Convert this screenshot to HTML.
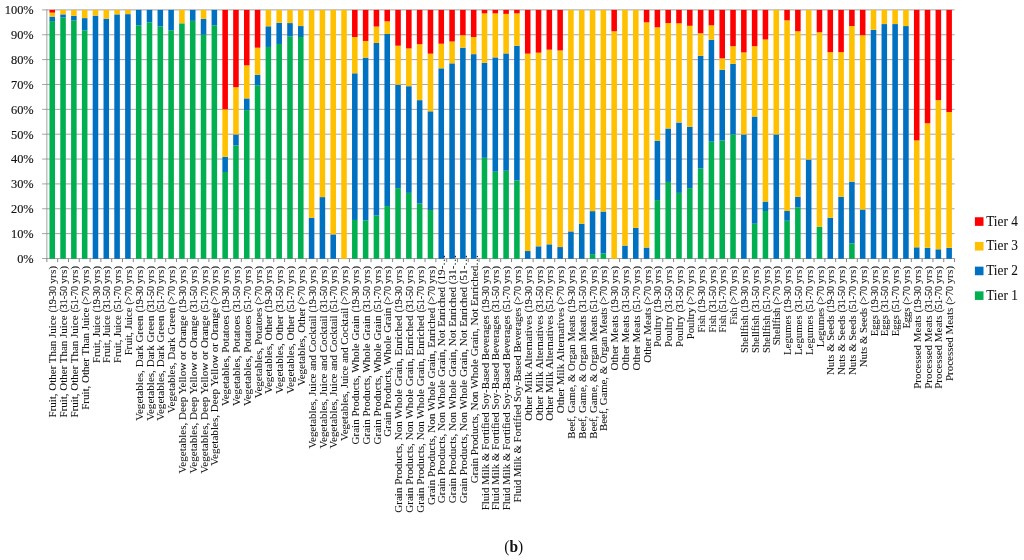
<!DOCTYPE html>
<html lang="en">
<head>
<meta charset="utf-8">
<title>Figure (b) - Tier distribution by food category and age group</title>
<style>
html,body{margin:0;padding:0;background:#fff;}
body{width:1024px;height:560px;overflow:hidden;font-family:"Liberation Serif",serif;}
svg{display:block;}
text{font-family:"Liberation Serif",serif;fill:#111;}
.yl{font-size:13.2px;text-anchor:end;stroke:#111;stroke-width:0.15px;}
.xl{text-anchor:end;stroke:#111;stroke-width:0.06px;}
.dg{stroke-width:0.14px;}
.lg{font-size:13.7px;stroke:#111;stroke-width:0.07px;}
.cap{font-size:16.6px;text-anchor:middle;}
</style>
</head>
<body>
<svg width="1024" height="560" viewBox="0 0 1024 560">
<rect width="1024" height="560" fill="#ffffff"/>
<g stroke="#868686" stroke-width="0.75" fill="none">
<line x1="42.1" y1="258.50" x2="954.55" y2="258.50"/>
<line x1="42.1" y1="233.64" x2="954.55" y2="233.64"/>
<line x1="42.1" y1="208.78" x2="954.55" y2="208.78"/>
<line x1="42.1" y1="183.92" x2="954.55" y2="183.92"/>
<line x1="42.1" y1="159.06" x2="954.55" y2="159.06"/>
<line x1="42.1" y1="134.20" x2="954.55" y2="134.20"/>
<line x1="42.1" y1="109.34" x2="954.55" y2="109.34"/>
<line x1="42.1" y1="84.48" x2="954.55" y2="84.48"/>
<line x1="42.1" y1="59.62" x2="954.55" y2="59.62"/>
<line x1="42.1" y1="34.76" x2="954.55" y2="34.76"/>
<line x1="42.1" y1="9.90" x2="954.55" y2="9.90"/>
</g>
<g fill="#00B050">
<rect x="49.48" y="21.09" width="5.55" height="237.71"/>
<rect x="60.28" y="17.61" width="5.55" height="241.19"/>
<rect x="71.09" y="20.34" width="5.55" height="238.46"/>
<rect x="81.90" y="30.29" width="5.55" height="228.51"/>
<rect x="135.93" y="25.31" width="5.55" height="233.49"/>
<rect x="146.73" y="22.33" width="5.55" height="236.47"/>
<rect x="157.54" y="26.56" width="5.55" height="232.24"/>
<rect x="168.34" y="30.29" width="5.55" height="228.51"/>
<rect x="179.15" y="23.32" width="5.55" height="235.48"/>
<rect x="189.96" y="20.84" width="5.55" height="237.96"/>
<rect x="200.76" y="34.76" width="5.55" height="224.04"/>
<rect x="211.57" y="25.31" width="5.55" height="233.49"/>
<rect x="222.37" y="171.99" width="5.55" height="86.81"/>
<rect x="233.18" y="145.39" width="5.55" height="113.41"/>
<rect x="243.99" y="110.09" width="5.55" height="148.71"/>
<rect x="254.79" y="85.23" width="5.55" height="173.57"/>
<rect x="265.60" y="46.94" width="5.55" height="211.86"/>
<rect x="276.40" y="43.96" width="5.55" height="214.84"/>
<rect x="287.21" y="36.50" width="5.55" height="222.30"/>
<rect x="298.01" y="37.00" width="5.55" height="221.80"/>
<rect x="352.04" y="219.97" width="5.55" height="38.83"/>
<rect x="362.85" y="220.46" width="5.55" height="38.34"/>
<rect x="373.66" y="215.49" width="5.55" height="43.31"/>
<rect x="384.46" y="206.05" width="5.55" height="52.75"/>
<rect x="395.27" y="188.15" width="5.55" height="70.65"/>
<rect x="406.07" y="192.87" width="5.55" height="65.93"/>
<rect x="416.88" y="203.56" width="5.55" height="55.24"/>
<rect x="427.69" y="210.02" width="5.55" height="48.78"/>
<rect x="481.72" y="157.82" width="5.55" height="100.98"/>
<rect x="492.52" y="171.74" width="5.55" height="87.06"/>
<rect x="503.33" y="170.74" width="5.55" height="88.06"/>
<rect x="514.13" y="180.44" width="5.55" height="78.36"/>
<rect x="589.78" y="254.15" width="5.55" height="4.65"/>
<rect x="600.58" y="253.53" width="5.55" height="5.27"/>
<rect x="654.61" y="200.08" width="5.55" height="58.72"/>
<rect x="665.42" y="181.93" width="5.55" height="76.87"/>
<rect x="676.22" y="192.87" width="5.55" height="65.93"/>
<rect x="687.03" y="188.15" width="5.55" height="70.65"/>
<rect x="697.84" y="168.51" width="5.55" height="90.29"/>
<rect x="708.64" y="141.66" width="5.55" height="117.14"/>
<rect x="719.45" y="140.42" width="5.55" height="118.38"/>
<rect x="730.25" y="134.45" width="5.55" height="124.35"/>
<rect x="751.86" y="223.70" width="5.55" height="35.10"/>
<rect x="762.67" y="211.02" width="5.55" height="47.78"/>
<rect x="784.28" y="220.71" width="5.55" height="38.09"/>
<rect x="795.09" y="207.29" width="5.55" height="51.51"/>
<rect x="816.70" y="226.68" width="5.55" height="32.12"/>
<rect x="849.12" y="243.46" width="5.55" height="15.34"/>
</g>
<g fill="#0070C0">
<rect x="49.48" y="16.61" width="5.55" height="4.47"/>
<rect x="60.28" y="14.37" width="5.55" height="3.23"/>
<rect x="71.09" y="15.87" width="5.55" height="4.47"/>
<rect x="81.90" y="18.10" width="5.55" height="12.18"/>
<rect x="92.70" y="15.62" width="5.55" height="243.18"/>
<rect x="103.51" y="18.60" width="5.55" height="240.20"/>
<rect x="114.31" y="14.37" width="5.55" height="244.43"/>
<rect x="125.12" y="14.13" width="5.55" height="244.67"/>
<rect x="135.93" y="9.90" width="5.55" height="15.41"/>
<rect x="146.73" y="9.90" width="5.55" height="12.43"/>
<rect x="157.54" y="9.90" width="5.55" height="16.66"/>
<rect x="168.34" y="9.90" width="5.55" height="20.39"/>
<rect x="189.96" y="9.90" width="5.55" height="10.94"/>
<rect x="200.76" y="18.85" width="5.55" height="15.91"/>
<rect x="211.57" y="9.90" width="5.55" height="15.41"/>
<rect x="222.37" y="156.82" width="5.55" height="15.16"/>
<rect x="233.18" y="134.45" width="5.55" height="10.94"/>
<rect x="243.99" y="98.40" width="5.55" height="11.68"/>
<rect x="254.79" y="74.78" width="5.55" height="10.44"/>
<rect x="265.60" y="26.31" width="5.55" height="20.63"/>
<rect x="276.40" y="22.83" width="5.55" height="21.13"/>
<rect x="287.21" y="23.08" width="5.55" height="13.42"/>
<rect x="298.01" y="26.06" width="5.55" height="10.94"/>
<rect x="308.82" y="217.73" width="5.55" height="41.07"/>
<rect x="319.63" y="197.10" width="5.55" height="61.70"/>
<rect x="330.43" y="234.39" width="5.55" height="24.41"/>
<rect x="352.04" y="73.29" width="5.55" height="146.67"/>
<rect x="362.85" y="57.63" width="5.55" height="162.83"/>
<rect x="373.66" y="42.96" width="5.55" height="172.53"/>
<rect x="384.46" y="34.01" width="5.55" height="172.03"/>
<rect x="395.27" y="84.73" width="5.55" height="103.42"/>
<rect x="406.07" y="86.22" width="5.55" height="106.65"/>
<rect x="416.88" y="100.14" width="5.55" height="103.42"/>
<rect x="427.69" y="111.33" width="5.55" height="98.69"/>
<rect x="438.49" y="68.32" width="5.55" height="190.48"/>
<rect x="449.30" y="63.35" width="5.55" height="195.45"/>
<rect x="460.10" y="47.69" width="5.55" height="211.11"/>
<rect x="470.91" y="54.15" width="5.55" height="204.65"/>
<rect x="481.72" y="62.85" width="5.55" height="94.97"/>
<rect x="492.52" y="57.38" width="5.55" height="114.36"/>
<rect x="503.33" y="53.41" width="5.55" height="117.34"/>
<rect x="514.13" y="45.70" width="5.55" height="134.74"/>
<rect x="524.94" y="251.04" width="5.55" height="7.76"/>
<rect x="535.75" y="246.32" width="5.55" height="12.48"/>
<rect x="546.55" y="244.33" width="5.55" height="14.47"/>
<rect x="557.36" y="247.06" width="5.55" height="11.74"/>
<rect x="568.16" y="231.40" width="5.55" height="27.40"/>
<rect x="578.97" y="223.70" width="5.55" height="35.10"/>
<rect x="589.78" y="211.14" width="5.55" height="43.01"/>
<rect x="600.58" y="211.51" width="5.55" height="42.01"/>
<rect x="622.19" y="245.57" width="5.55" height="13.23"/>
<rect x="633.00" y="227.92" width="5.55" height="30.88"/>
<rect x="643.81" y="247.56" width="5.55" height="11.24"/>
<rect x="654.61" y="140.66" width="5.55" height="59.42"/>
<rect x="665.42" y="128.48" width="5.55" height="53.45"/>
<rect x="676.22" y="122.52" width="5.55" height="70.35"/>
<rect x="687.03" y="126.74" width="5.55" height="61.40"/>
<rect x="697.84" y="55.89" width="5.55" height="112.62"/>
<rect x="708.64" y="39.73" width="5.55" height="101.93"/>
<rect x="719.45" y="69.81" width="5.55" height="70.60"/>
<rect x="730.25" y="63.85" width="5.55" height="70.60"/>
<rect x="741.06" y="134.45" width="5.55" height="124.35"/>
<rect x="751.86" y="116.55" width="5.55" height="107.15"/>
<rect x="762.67" y="201.57" width="5.55" height="9.45"/>
<rect x="773.48" y="134.45" width="5.55" height="124.35"/>
<rect x="784.28" y="211.02" width="5.55" height="9.70"/>
<rect x="795.09" y="196.85" width="5.55" height="10.44"/>
<rect x="805.89" y="159.56" width="5.55" height="99.24"/>
<rect x="827.51" y="217.73" width="5.55" height="41.07"/>
<rect x="838.31" y="196.85" width="5.55" height="61.95"/>
<rect x="849.12" y="181.68" width="5.55" height="61.78"/>
<rect x="859.92" y="209.53" width="5.55" height="49.27"/>
<rect x="870.73" y="29.79" width="5.55" height="229.01"/>
<rect x="881.54" y="24.07" width="5.55" height="234.73"/>
<rect x="892.34" y="24.07" width="5.55" height="234.73"/>
<rect x="903.15" y="26.06" width="5.55" height="232.74"/>
<rect x="913.95" y="247.31" width="5.55" height="11.49"/>
<rect x="924.76" y="247.81" width="5.55" height="10.99"/>
<rect x="935.57" y="249.30" width="5.55" height="9.50"/>
<rect x="946.37" y="247.81" width="5.55" height="10.99"/>
</g>
<g fill="#FFC000">
<rect x="49.48" y="12.63" width="5.55" height="3.98"/>
<rect x="60.28" y="9.90" width="5.55" height="4.47"/>
<rect x="71.09" y="9.90" width="5.55" height="5.97"/>
<rect x="81.90" y="9.90" width="5.55" height="8.20"/>
<rect x="92.70" y="9.90" width="5.55" height="5.72"/>
<rect x="103.51" y="9.90" width="5.55" height="8.70"/>
<rect x="114.31" y="9.90" width="5.55" height="4.47"/>
<rect x="125.12" y="9.90" width="5.55" height="4.23"/>
<rect x="179.15" y="9.90" width="5.55" height="13.42"/>
<rect x="200.76" y="9.90" width="5.55" height="8.95"/>
<rect x="222.37" y="109.34" width="5.55" height="47.48"/>
<rect x="233.18" y="87.21" width="5.55" height="47.23"/>
<rect x="243.99" y="65.34" width="5.55" height="33.06"/>
<rect x="254.79" y="47.69" width="5.55" height="27.10"/>
<rect x="265.60" y="9.90" width="5.55" height="16.41"/>
<rect x="276.40" y="9.90" width="5.55" height="12.93"/>
<rect x="287.21" y="9.90" width="5.55" height="13.18"/>
<rect x="298.01" y="9.90" width="5.55" height="16.16"/>
<rect x="308.82" y="9.90" width="5.55" height="207.83"/>
<rect x="319.63" y="9.90" width="5.55" height="187.20"/>
<rect x="330.43" y="9.90" width="5.55" height="224.49"/>
<rect x="341.24" y="9.90" width="5.55" height="248.90"/>
<rect x="352.04" y="37.00" width="5.55" height="36.30"/>
<rect x="362.85" y="40.97" width="5.55" height="16.66"/>
<rect x="373.66" y="26.56" width="5.55" height="16.41"/>
<rect x="384.46" y="21.34" width="5.55" height="12.68"/>
<rect x="395.27" y="45.70" width="5.55" height="39.03"/>
<rect x="406.07" y="48.43" width="5.55" height="37.79"/>
<rect x="416.88" y="44.21" width="5.55" height="55.93"/>
<rect x="427.69" y="53.65" width="5.55" height="57.68"/>
<rect x="438.49" y="43.71" width="5.55" height="24.61"/>
<rect x="449.30" y="41.47" width="5.55" height="21.88"/>
<rect x="460.10" y="35.26" width="5.55" height="12.43"/>
<rect x="470.91" y="37.00" width="5.55" height="17.15"/>
<rect x="481.72" y="13.38" width="5.55" height="49.47"/>
<rect x="492.52" y="13.38" width="5.55" height="44.00"/>
<rect x="503.33" y="13.88" width="5.55" height="39.53"/>
<rect x="514.13" y="13.38" width="5.55" height="32.32"/>
<rect x="524.94" y="53.65" width="5.55" height="197.39"/>
<rect x="535.75" y="52.66" width="5.55" height="193.66"/>
<rect x="546.55" y="49.68" width="5.55" height="194.65"/>
<rect x="557.36" y="50.42" width="5.55" height="196.64"/>
<rect x="568.16" y="9.90" width="5.55" height="221.50"/>
<rect x="578.97" y="9.90" width="5.55" height="213.80"/>
<rect x="589.78" y="9.90" width="5.55" height="201.24"/>
<rect x="600.58" y="9.90" width="5.55" height="201.61"/>
<rect x="611.39" y="31.28" width="5.55" height="227.52"/>
<rect x="622.19" y="9.90" width="5.55" height="235.67"/>
<rect x="633.00" y="9.90" width="5.55" height="218.02"/>
<rect x="643.81" y="22.33" width="5.55" height="225.23"/>
<rect x="654.61" y="27.30" width="5.55" height="113.36"/>
<rect x="665.42" y="23.08" width="5.55" height="105.41"/>
<rect x="676.22" y="23.32" width="5.55" height="99.19"/>
<rect x="687.03" y="25.81" width="5.55" height="100.93"/>
<rect x="697.84" y="33.27" width="5.55" height="22.62"/>
<rect x="708.64" y="25.31" width="5.55" height="14.42"/>
<rect x="719.45" y="58.38" width="5.55" height="11.44"/>
<rect x="730.25" y="46.20" width="5.55" height="17.65"/>
<rect x="741.06" y="52.41" width="5.55" height="82.04"/>
<rect x="751.86" y="46.20" width="5.55" height="70.35"/>
<rect x="762.67" y="39.48" width="5.55" height="162.09"/>
<rect x="773.48" y="9.90" width="5.55" height="124.55"/>
<rect x="784.28" y="20.34" width="5.55" height="190.68"/>
<rect x="795.09" y="31.28" width="5.55" height="165.57"/>
<rect x="805.89" y="9.90" width="5.55" height="149.66"/>
<rect x="816.70" y="32.27" width="5.55" height="194.41"/>
<rect x="827.51" y="52.16" width="5.55" height="165.57"/>
<rect x="838.31" y="52.16" width="5.55" height="144.69"/>
<rect x="849.12" y="26.06" width="5.55" height="155.62"/>
<rect x="859.92" y="35.26" width="5.55" height="174.27"/>
<rect x="870.73" y="9.90" width="5.55" height="19.89"/>
<rect x="881.54" y="9.90" width="5.55" height="14.17"/>
<rect x="892.34" y="9.90" width="5.55" height="14.17"/>
<rect x="903.15" y="9.90" width="5.55" height="16.16"/>
<rect x="913.95" y="140.42" width="5.55" height="106.90"/>
<rect x="924.76" y="123.26" width="5.55" height="124.55"/>
<rect x="935.57" y="100.14" width="5.55" height="149.16"/>
<rect x="946.37" y="112.07" width="5.55" height="135.74"/>
</g>
<g fill="#FF0000">
<rect x="49.48" y="9.90" width="5.55" height="2.73"/>
<rect x="222.37" y="9.90" width="5.55" height="99.44"/>
<rect x="233.18" y="9.90" width="5.55" height="77.31"/>
<rect x="243.99" y="9.90" width="5.55" height="55.44"/>
<rect x="254.79" y="9.90" width="5.55" height="37.79"/>
<rect x="352.04" y="9.90" width="5.55" height="27.10"/>
<rect x="362.85" y="9.90" width="5.55" height="31.07"/>
<rect x="373.66" y="9.90" width="5.55" height="16.66"/>
<rect x="384.46" y="9.90" width="5.55" height="11.44"/>
<rect x="395.27" y="9.90" width="5.55" height="35.80"/>
<rect x="406.07" y="9.90" width="5.55" height="38.53"/>
<rect x="416.88" y="9.90" width="5.55" height="34.31"/>
<rect x="427.69" y="9.90" width="5.55" height="43.75"/>
<rect x="438.49" y="9.90" width="5.55" height="33.81"/>
<rect x="449.30" y="9.90" width="5.55" height="31.57"/>
<rect x="460.10" y="9.90" width="5.55" height="25.36"/>
<rect x="470.91" y="9.90" width="5.55" height="27.10"/>
<rect x="481.72" y="9.90" width="5.55" height="3.48"/>
<rect x="492.52" y="9.90" width="5.55" height="3.48"/>
<rect x="503.33" y="9.90" width="5.55" height="3.98"/>
<rect x="514.13" y="9.90" width="5.55" height="3.48"/>
<rect x="524.94" y="9.90" width="5.55" height="43.75"/>
<rect x="535.75" y="9.90" width="5.55" height="42.76"/>
<rect x="546.55" y="9.90" width="5.55" height="39.78"/>
<rect x="557.36" y="9.90" width="5.55" height="40.52"/>
<rect x="611.39" y="9.90" width="5.55" height="21.38"/>
<rect x="643.81" y="9.90" width="5.55" height="12.43"/>
<rect x="654.61" y="9.90" width="5.55" height="17.40"/>
<rect x="665.42" y="9.90" width="5.55" height="13.18"/>
<rect x="676.22" y="9.90" width="5.55" height="13.42"/>
<rect x="687.03" y="9.90" width="5.55" height="15.91"/>
<rect x="697.84" y="9.90" width="5.55" height="23.37"/>
<rect x="708.64" y="9.90" width="5.55" height="15.41"/>
<rect x="719.45" y="9.90" width="5.55" height="48.48"/>
<rect x="730.25" y="9.90" width="5.55" height="36.30"/>
<rect x="741.06" y="9.90" width="5.55" height="42.51"/>
<rect x="751.86" y="9.90" width="5.55" height="36.30"/>
<rect x="762.67" y="9.90" width="5.55" height="29.58"/>
<rect x="784.28" y="9.90" width="5.55" height="10.44"/>
<rect x="795.09" y="9.90" width="5.55" height="21.38"/>
<rect x="816.70" y="9.90" width="5.55" height="22.37"/>
<rect x="827.51" y="9.90" width="5.55" height="42.26"/>
<rect x="838.31" y="9.90" width="5.55" height="42.26"/>
<rect x="849.12" y="9.90" width="5.55" height="16.16"/>
<rect x="859.92" y="9.90" width="5.55" height="25.36"/>
<rect x="913.95" y="9.90" width="5.55" height="130.52"/>
<rect x="924.76" y="9.90" width="5.55" height="113.36"/>
<rect x="935.57" y="9.90" width="5.55" height="90.24"/>
<rect x="946.37" y="9.90" width="5.55" height="102.17"/>
</g>
<g stroke="#868686" stroke-width="0.75" fill="none">
<line x1="46.85" y1="9.50" x2="46.85" y2="258.90"/>
<line stroke-width="1" x1="46.85" y1="258.50" x2="46.85" y2="262.10"/>
<line stroke-width="1" x1="57.66" y1="258.50" x2="57.66" y2="262.10"/>
<line stroke-width="1" x1="68.46" y1="258.50" x2="68.46" y2="262.10"/>
<line stroke-width="1" x1="79.27" y1="258.50" x2="79.27" y2="262.10"/>
<line stroke-width="1" x1="90.07" y1="258.50" x2="90.07" y2="262.10"/>
<line stroke-width="1" x1="100.88" y1="258.50" x2="100.88" y2="262.10"/>
<line stroke-width="1" x1="111.69" y1="258.50" x2="111.69" y2="262.10"/>
<line stroke-width="1" x1="122.49" y1="258.50" x2="122.49" y2="262.10"/>
<line stroke-width="1" x1="133.30" y1="258.50" x2="133.30" y2="262.10"/>
<line stroke-width="1" x1="144.10" y1="258.50" x2="144.10" y2="262.10"/>
<line stroke-width="1" x1="154.91" y1="258.50" x2="154.91" y2="262.10"/>
<line stroke-width="1" x1="165.72" y1="258.50" x2="165.72" y2="262.10"/>
<line stroke-width="1" x1="176.52" y1="258.50" x2="176.52" y2="262.10"/>
<line stroke-width="1" x1="187.33" y1="258.50" x2="187.33" y2="262.10"/>
<line stroke-width="1" x1="198.13" y1="258.50" x2="198.13" y2="262.10"/>
<line stroke-width="1" x1="208.94" y1="258.50" x2="208.94" y2="262.10"/>
<line stroke-width="1" x1="219.75" y1="258.50" x2="219.75" y2="262.10"/>
<line stroke-width="1" x1="230.55" y1="258.50" x2="230.55" y2="262.10"/>
<line stroke-width="1" x1="241.36" y1="258.50" x2="241.36" y2="262.10"/>
<line stroke-width="1" x1="252.16" y1="258.50" x2="252.16" y2="262.10"/>
<line stroke-width="1" x1="262.97" y1="258.50" x2="262.97" y2="262.10"/>
<line stroke-width="1" x1="273.77" y1="258.50" x2="273.77" y2="262.10"/>
<line stroke-width="1" x1="284.58" y1="258.50" x2="284.58" y2="262.10"/>
<line stroke-width="1" x1="295.39" y1="258.50" x2="295.39" y2="262.10"/>
<line stroke-width="1" x1="306.19" y1="258.50" x2="306.19" y2="262.10"/>
<line stroke-width="1" x1="317.00" y1="258.50" x2="317.00" y2="262.10"/>
<line stroke-width="1" x1="327.80" y1="258.50" x2="327.80" y2="262.10"/>
<line stroke-width="1" x1="338.61" y1="258.50" x2="338.61" y2="262.10"/>
<line stroke-width="1" x1="349.42" y1="258.50" x2="349.42" y2="262.10"/>
<line stroke-width="1" x1="360.22" y1="258.50" x2="360.22" y2="262.10"/>
<line stroke-width="1" x1="371.03" y1="258.50" x2="371.03" y2="262.10"/>
<line stroke-width="1" x1="381.83" y1="258.50" x2="381.83" y2="262.10"/>
<line stroke-width="1" x1="392.64" y1="258.50" x2="392.64" y2="262.10"/>
<line stroke-width="1" x1="403.45" y1="258.50" x2="403.45" y2="262.10"/>
<line stroke-width="1" x1="414.25" y1="258.50" x2="414.25" y2="262.10"/>
<line stroke-width="1" x1="425.06" y1="258.50" x2="425.06" y2="262.10"/>
<line stroke-width="1" x1="435.86" y1="258.50" x2="435.86" y2="262.10"/>
<line stroke-width="1" x1="446.67" y1="258.50" x2="446.67" y2="262.10"/>
<line stroke-width="1" x1="457.48" y1="258.50" x2="457.48" y2="262.10"/>
<line stroke-width="1" x1="468.28" y1="258.50" x2="468.28" y2="262.10"/>
<line stroke-width="1" x1="479.09" y1="258.50" x2="479.09" y2="262.10"/>
<line stroke-width="1" x1="489.89" y1="258.50" x2="489.89" y2="262.10"/>
<line stroke-width="1" x1="500.70" y1="258.50" x2="500.70" y2="262.10"/>
<line stroke-width="1" x1="511.51" y1="258.50" x2="511.51" y2="262.10"/>
<line stroke-width="1" x1="522.31" y1="258.50" x2="522.31" y2="262.10"/>
<line stroke-width="1" x1="533.12" y1="258.50" x2="533.12" y2="262.10"/>
<line stroke-width="1" x1="543.92" y1="258.50" x2="543.92" y2="262.10"/>
<line stroke-width="1" x1="554.73" y1="258.50" x2="554.73" y2="262.10"/>
<line stroke-width="1" x1="565.54" y1="258.50" x2="565.54" y2="262.10"/>
<line stroke-width="1" x1="576.34" y1="258.50" x2="576.34" y2="262.10"/>
<line stroke-width="1" x1="587.15" y1="258.50" x2="587.15" y2="262.10"/>
<line stroke-width="1" x1="597.95" y1="258.50" x2="597.95" y2="262.10"/>
<line stroke-width="1" x1="608.76" y1="258.50" x2="608.76" y2="262.10"/>
<line stroke-width="1" x1="619.57" y1="258.50" x2="619.57" y2="262.10"/>
<line stroke-width="1" x1="630.37" y1="258.50" x2="630.37" y2="262.10"/>
<line stroke-width="1" x1="641.18" y1="258.50" x2="641.18" y2="262.10"/>
<line stroke-width="1" x1="651.98" y1="258.50" x2="651.98" y2="262.10"/>
<line stroke-width="1" x1="662.79" y1="258.50" x2="662.79" y2="262.10"/>
<line stroke-width="1" x1="673.60" y1="258.50" x2="673.60" y2="262.10"/>
<line stroke-width="1" x1="684.40" y1="258.50" x2="684.40" y2="262.10"/>
<line stroke-width="1" x1="695.21" y1="258.50" x2="695.21" y2="262.10"/>
<line stroke-width="1" x1="706.01" y1="258.50" x2="706.01" y2="262.10"/>
<line stroke-width="1" x1="716.82" y1="258.50" x2="716.82" y2="262.10"/>
<line stroke-width="1" x1="727.62" y1="258.50" x2="727.62" y2="262.10"/>
<line stroke-width="1" x1="738.43" y1="258.50" x2="738.43" y2="262.10"/>
<line stroke-width="1" x1="749.24" y1="258.50" x2="749.24" y2="262.10"/>
<line stroke-width="1" x1="760.04" y1="258.50" x2="760.04" y2="262.10"/>
<line stroke-width="1" x1="770.85" y1="258.50" x2="770.85" y2="262.10"/>
<line stroke-width="1" x1="781.65" y1="258.50" x2="781.65" y2="262.10"/>
<line stroke-width="1" x1="792.46" y1="258.50" x2="792.46" y2="262.10"/>
<line stroke-width="1" x1="803.27" y1="258.50" x2="803.27" y2="262.10"/>
<line stroke-width="1" x1="814.07" y1="258.50" x2="814.07" y2="262.10"/>
<line stroke-width="1" x1="824.88" y1="258.50" x2="824.88" y2="262.10"/>
<line stroke-width="1" x1="835.68" y1="258.50" x2="835.68" y2="262.10"/>
<line stroke-width="1" x1="846.49" y1="258.50" x2="846.49" y2="262.10"/>
<line stroke-width="1" x1="857.30" y1="258.50" x2="857.30" y2="262.10"/>
<line stroke-width="1" x1="868.10" y1="258.50" x2="868.10" y2="262.10"/>
<line stroke-width="1" x1="878.91" y1="258.50" x2="878.91" y2="262.10"/>
<line stroke-width="1" x1="889.71" y1="258.50" x2="889.71" y2="262.10"/>
<line stroke-width="1" x1="900.52" y1="258.50" x2="900.52" y2="262.10"/>
<line stroke-width="1" x1="911.33" y1="258.50" x2="911.33" y2="262.10"/>
<line stroke-width="1" x1="922.13" y1="258.50" x2="922.13" y2="262.10"/>
<line stroke-width="1" x1="932.94" y1="258.50" x2="932.94" y2="262.10"/>
<line stroke-width="1" x1="943.74" y1="258.50" x2="943.74" y2="262.10"/>
<line stroke-width="1" x1="954.55" y1="258.50" x2="954.55" y2="262.10"/>
</g>
<g class="yl">
<text transform="translate(33.7 262.80) scale(0.9400 1)">0%</text>
<text transform="translate(33.7 237.94) scale(0.9400 1)">10%</text>
<text transform="translate(33.7 213.08) scale(0.9400 1)">20%</text>
<text transform="translate(33.7 188.22) scale(0.9400 1)">30%</text>
<text transform="translate(33.7 163.36) scale(0.9400 1)">40%</text>
<text transform="translate(33.7 138.50) scale(0.9400 1)">50%</text>
<text transform="translate(33.7 113.64) scale(0.9400 1)">60%</text>
<text transform="translate(33.7 88.78) scale(0.9400 1)">70%</text>
<text transform="translate(33.7 63.92) scale(0.9400 1)">80%</text>
<text transform="translate(33.7 39.06) scale(0.9400 1)">90%</text>
<text transform="translate(33.7 14.20) scale(0.9400 1)">100%</text>
</g>
<g class="xl" font-size="11.2">
<g transform="translate(56.35 265.70) rotate(-90)"><text transform="translate(-49.70 0) scale(0.9788 1)">Fruit, Other Than Juice</text><text class="dg" transform="translate(-20.30 0) scale(0.8930 1)"><tspan font-size="9.7">(</tspan>19-30</text><text transform="translate(-0.52 0) scale(1.0350 1)"> yrs<tspan font-size="9.7">)</tspan></text></g>
<g transform="translate(67.16 265.70) rotate(-90)"><text transform="translate(-49.70 0) scale(0.9788 1)">Fruit, Other Than Juice</text><text class="dg" transform="translate(-20.30 0) scale(0.8930 1)"><tspan font-size="9.7">(</tspan>31-50</text><text transform="translate(-0.52 0) scale(1.0350 1)"> yrs<tspan font-size="9.7">)</tspan></text></g>
<g transform="translate(77.96 265.70) rotate(-90)"><text transform="translate(-49.70 0) scale(0.9788 1)">Fruit, Other Than Juice</text><text class="dg" transform="translate(-20.30 0) scale(0.8930 1)"><tspan font-size="9.7">(</tspan>51-70</text><text transform="translate(-0.52 0) scale(1.0350 1)"> yrs<tspan font-size="9.7">)</tspan></text></g>
<g transform="translate(88.77 265.70) rotate(-90)"><text transform="translate(-42.01 0) scale(0.9788 1)">Fruit, Other Than Juice</text><text class="dg" transform="translate(-20.30 0) scale(0.8930 1)"><tspan font-size="9.7">(</tspan>&gt;70</text><text transform="translate(-0.52 0) scale(1.0350 1)"> yrs<tspan font-size="9.7">)</tspan></text></g>
<g transform="translate(99.58 265.70) rotate(-90)"><text transform="translate(-49.61 0) scale(0.9463 1)">Fruit, Juice</text><text class="dg" transform="translate(-20.30 0) scale(0.8930 1)"><tspan font-size="9.7">(</tspan>19-30</text><text transform="translate(-0.52 0) scale(1.0350 1)"> yrs<tspan font-size="9.7">)</tspan></text></g>
<g transform="translate(110.38 265.70) rotate(-90)"><text transform="translate(-49.61 0) scale(0.9463 1)">Fruit, Juice</text><text class="dg" transform="translate(-20.30 0) scale(0.8930 1)"><tspan font-size="9.7">(</tspan>31-50</text><text transform="translate(-0.52 0) scale(1.0350 1)"> yrs<tspan font-size="9.7">)</tspan></text></g>
<g transform="translate(121.19 265.70) rotate(-90)"><text transform="translate(-49.61 0) scale(0.9463 1)">Fruit, Juice</text><text class="dg" transform="translate(-20.30 0) scale(0.8930 1)"><tspan font-size="9.7">(</tspan>51-70</text><text transform="translate(-0.52 0) scale(1.0350 1)"> yrs<tspan font-size="9.7">)</tspan></text></g>
<g transform="translate(131.99 265.70) rotate(-90)"><text transform="translate(-41.92 0) scale(0.9463 1)">Fruit, Juice</text><text class="dg" transform="translate(-20.30 0) scale(0.8930 1)"><tspan font-size="9.7">(</tspan>&gt;70</text><text transform="translate(-0.52 0) scale(1.0350 1)"> yrs<tspan font-size="9.7">)</tspan></text></g>
<g transform="translate(142.80 265.70) rotate(-90)"><text transform="translate(-49.73 0) scale(0.9897 1)">Vegetables, Dark Green</text><text class="dg" transform="translate(-20.30 0) scale(0.8930 1)"><tspan font-size="9.7">(</tspan>19-30</text><text transform="translate(-0.52 0) scale(1.0350 1)"> yrs<tspan font-size="9.7">)</tspan></text></g>
<g transform="translate(153.61 265.70) rotate(-90)"><text transform="translate(-49.73 0) scale(0.9897 1)">Vegetables, Dark Green</text><text class="dg" transform="translate(-20.30 0) scale(0.8930 1)"><tspan font-size="9.7">(</tspan>31-50</text><text transform="translate(-0.52 0) scale(1.0350 1)"> yrs<tspan font-size="9.7">)</tspan></text></g>
<g transform="translate(164.41 265.70) rotate(-90)"><text transform="translate(-49.73 0) scale(0.9897 1)">Vegetables, Dark Green</text><text class="dg" transform="translate(-20.30 0) scale(0.8930 1)"><tspan font-size="9.7">(</tspan>51-70</text><text transform="translate(-0.52 0) scale(1.0350 1)"> yrs<tspan font-size="9.7">)</tspan></text></g>
<g transform="translate(175.22 265.70) rotate(-90)"><text transform="translate(-42.04 0) scale(0.9897 1)">Vegetables, Dark Green</text><text class="dg" transform="translate(-20.30 0) scale(0.8930 1)"><tspan font-size="9.7">(</tspan>&gt;70</text><text transform="translate(-0.52 0) scale(1.0350 1)"> yrs<tspan font-size="9.7">)</tspan></text></g>
<g transform="translate(186.02 265.70) rotate(-90)"><text transform="translate(-49.74 0) scale(0.9903 1)">Vegetables, Deep Yellow or Orange</text><text class="dg" transform="translate(-20.30 0) scale(0.8930 1)"><tspan font-size="9.7">(</tspan>19-30</text><text transform="translate(-0.52 0) scale(1.0350 1)"> yrs<tspan font-size="9.7">)</tspan></text></g>
<g transform="translate(196.83 265.70) rotate(-90)"><text transform="translate(-49.74 0) scale(0.9903 1)">Vegetables, Deep Yellow or Orange</text><text class="dg" transform="translate(-20.30 0) scale(0.8930 1)"><tspan font-size="9.7">(</tspan>31-50</text><text transform="translate(-0.52 0) scale(1.0350 1)"> yrs<tspan font-size="9.7">)</tspan></text></g>
<g transform="translate(207.64 265.70) rotate(-90)"><text transform="translate(-49.74 0) scale(0.9903 1)">Vegetables, Deep Yellow or Orange</text><text class="dg" transform="translate(-20.30 0) scale(0.8930 1)"><tspan font-size="9.7">(</tspan>51-70</text><text transform="translate(-0.52 0) scale(1.0350 1)"> yrs<tspan font-size="9.7">)</tspan></text></g>
<g transform="translate(218.44 265.70) rotate(-90)"><text transform="translate(-42.04 0) scale(0.9903 1)">Vegetables, Deep Yellow or Orange</text><text class="dg" transform="translate(-20.30 0) scale(0.8930 1)"><tspan font-size="9.7">(</tspan>&gt;70</text><text transform="translate(-0.52 0) scale(1.0350 1)"> yrs<tspan font-size="9.7">)</tspan></text></g>
<g transform="translate(229.25 265.70) rotate(-90)"><text transform="translate(-49.72 0) scale(0.9839 1)">Vegetables, Potatoes</text><text class="dg" transform="translate(-20.30 0) scale(0.8930 1)"><tspan font-size="9.7">(</tspan>19-30</text><text transform="translate(-0.52 0) scale(1.0350 1)"> yrs<tspan font-size="9.7">)</tspan></text></g>
<g transform="translate(240.05 265.70) rotate(-90)"><text transform="translate(-49.72 0) scale(0.9839 1)">Vegetables, Potatoes</text><text class="dg" transform="translate(-20.30 0) scale(0.8930 1)"><tspan font-size="9.7">(</tspan>31-50</text><text transform="translate(-0.52 0) scale(1.0350 1)"> yrs<tspan font-size="9.7">)</tspan></text></g>
<g transform="translate(250.86 265.70) rotate(-90)"><text transform="translate(-49.72 0) scale(0.9839 1)">Vegetables, Potatoes</text><text class="dg" transform="translate(-20.30 0) scale(0.8930 1)"><tspan font-size="9.7">(</tspan>51-70</text><text transform="translate(-0.52 0) scale(1.0350 1)"> yrs<tspan font-size="9.7">)</tspan></text></g>
<g transform="translate(261.67 265.70) rotate(-90)"><text transform="translate(-42.03 0) scale(0.9839 1)">Vegetables, Potatoes</text><text class="dg" transform="translate(-20.30 0) scale(0.8930 1)"><tspan font-size="9.7">(</tspan>&gt;70</text><text transform="translate(-0.52 0) scale(1.0350 1)"> yrs<tspan font-size="9.7">)</tspan></text></g>
<g transform="translate(272.47 265.70) rotate(-90)"><text transform="translate(-49.72 0) scale(0.9839 1)">Vegetables, Other</text><text class="dg" transform="translate(-20.30 0) scale(0.8930 1)"><tspan font-size="9.7">(</tspan>19-30</text><text transform="translate(-0.52 0) scale(1.0350 1)"> yrs<tspan font-size="9.7">)</tspan></text></g>
<g transform="translate(283.28 265.70) rotate(-90)"><text transform="translate(-49.72 0) scale(0.9839 1)">Vegetables, Other</text><text class="dg" transform="translate(-20.30 0) scale(0.8930 1)"><tspan font-size="9.7">(</tspan>31-50</text><text transform="translate(-0.52 0) scale(1.0350 1)"> yrs<tspan font-size="9.7">)</tspan></text></g>
<g transform="translate(294.08 265.70) rotate(-90)"><text transform="translate(-49.72 0) scale(0.9839 1)">Vegetables, Other</text><text class="dg" transform="translate(-20.30 0) scale(0.8930 1)"><tspan font-size="9.7">(</tspan>51-70</text><text transform="translate(-0.52 0) scale(1.0350 1)"> yrs<tspan font-size="9.7">)</tspan></text></g>
<g transform="translate(304.89 265.70) rotate(-90)"><text transform="translate(-42.03 0) scale(0.9839 1)">Vegetables, Other</text><text class="dg" transform="translate(-20.30 0) scale(0.8930 1)"><tspan font-size="9.7">(</tspan>&gt;70</text><text transform="translate(-0.52 0) scale(1.0350 1)"> yrs<tspan font-size="9.7">)</tspan></text></g>
<g transform="translate(315.70 265.70) rotate(-90)"><text transform="translate(-49.69 0) scale(0.9745 1)">Vegetables, Juice and Cocktail</text><text class="dg" transform="translate(-20.30 0) scale(0.8930 1)"><tspan font-size="9.7">(</tspan>19-30</text><text transform="translate(-0.52 0) scale(1.0350 1)"> yrs<tspan font-size="9.7">)</tspan></text></g>
<g transform="translate(326.50 265.70) rotate(-90)"><text transform="translate(-49.69 0) scale(0.9745 1)">Vegetables, Juice and Cocktail</text><text class="dg" transform="translate(-20.30 0) scale(0.8930 1)"><tspan font-size="9.7">(</tspan>31-50</text><text transform="translate(-0.52 0) scale(1.0350 1)"> yrs<tspan font-size="9.7">)</tspan></text></g>
<g transform="translate(337.31 265.70) rotate(-90)"><text transform="translate(-49.69 0) scale(0.9745 1)">Vegetables, Juice and Cocktail</text><text class="dg" transform="translate(-20.30 0) scale(0.8930 1)"><tspan font-size="9.7">(</tspan>51-70</text><text transform="translate(-0.52 0) scale(1.0350 1)"> yrs<tspan font-size="9.7">)</tspan></text></g>
<g transform="translate(348.11 265.70) rotate(-90)"><text transform="translate(-42.00 0) scale(0.9745 1)">Vegetables, Juice and Cocktail</text><text class="dg" transform="translate(-20.30 0) scale(0.8930 1)"><tspan font-size="9.7">(</tspan>&gt;70</text><text transform="translate(-0.52 0) scale(1.0350 1)"> yrs<tspan font-size="9.7">)</tspan></text></g>
<g transform="translate(358.92 265.70) rotate(-90)"><text transform="translate(-49.72 0) scale(0.9849 1)">Grain Products, Whole Grain</text><text class="dg" transform="translate(-20.30 0) scale(0.8930 1)"><tspan font-size="9.7">(</tspan>19-30</text><text transform="translate(-0.52 0) scale(1.0350 1)"> yrs<tspan font-size="9.7">)</tspan></text></g>
<g transform="translate(369.73 265.70) rotate(-90)"><text transform="translate(-49.72 0) scale(0.9849 1)">Grain Products, Whole Grain</text><text class="dg" transform="translate(-20.30 0) scale(0.8930 1)"><tspan font-size="9.7">(</tspan>31-50</text><text transform="translate(-0.52 0) scale(1.0350 1)"> yrs<tspan font-size="9.7">)</tspan></text></g>
<g transform="translate(380.53 265.70) rotate(-90)"><text transform="translate(-49.72 0) scale(0.9849 1)">Grain Products, Whole Grain</text><text class="dg" transform="translate(-20.30 0) scale(0.8930 1)"><tspan font-size="9.7">(</tspan>51-70</text><text transform="translate(-0.52 0) scale(1.0350 1)"> yrs<tspan font-size="9.7">)</tspan></text></g>
<g transform="translate(391.34 265.70) rotate(-90)"><text transform="translate(-42.03 0) scale(0.9849 1)">Grain Products, Whole Grain</text><text class="dg" transform="translate(-20.30 0) scale(0.8930 1)"><tspan font-size="9.7">(</tspan>&gt;70</text><text transform="translate(-0.52 0) scale(1.0350 1)"> yrs<tspan font-size="9.7">)</tspan></text></g>
<g transform="translate(402.14 265.70) rotate(-90)"><text transform="translate(-49.74 0) scale(0.9919 1)">Grain Products, Non Whole Grain, Enriched</text><text class="dg" transform="translate(-20.30 0) scale(0.8930 1)"><tspan font-size="9.7">(</tspan>19-30</text><text transform="translate(-0.52 0) scale(1.0350 1)"> yrs<tspan font-size="9.7">)</tspan></text></g>
<g transform="translate(412.95 265.70) rotate(-90)"><text transform="translate(-49.74 0) scale(0.9919 1)">Grain Products, Non Whole Grain, Enriched</text><text class="dg" transform="translate(-20.30 0) scale(0.8930 1)"><tspan font-size="9.7">(</tspan>31-50</text><text transform="translate(-0.52 0) scale(1.0350 1)"> yrs<tspan font-size="9.7">)</tspan></text></g>
<g transform="translate(423.76 265.70) rotate(-90)"><text transform="translate(-49.74 0) scale(0.9919 1)">Grain Products, Non Whole Grain, Enriched</text><text class="dg" transform="translate(-20.30 0) scale(0.8930 1)"><tspan font-size="9.7">(</tspan>51-70</text><text transform="translate(-0.52 0) scale(1.0350 1)"> yrs<tspan font-size="9.7">)</tspan></text></g>
<g transform="translate(434.56 265.70) rotate(-90)"><text transform="translate(-42.05 0) scale(0.9919 1)">Grain Products, Non Whole Grain, Enriched</text><text class="dg" transform="translate(-20.30 0) scale(0.8930 1)"><tspan font-size="9.7">(</tspan>&gt;70</text><text transform="translate(-0.52 0) scale(1.0350 1)"> yrs<tspan font-size="9.7">)</tspan></text></g>
<text transform="translate(445.37 254.60) rotate(-90) scale(0.9909 1)">Grain Products, Non Whole Grain, Not Enriched (19-…</text>
<text transform="translate(456.17 254.60) rotate(-90) scale(0.9909 1)">Grain Products, Non Whole Grain, Not Enriched (31-…</text>
<text transform="translate(466.98 254.60) rotate(-90) scale(0.9909 1)">Grain Products, Non Whole Grain, Not Enriched (51-…</text>
<text transform="translate(477.79 254.60) rotate(-90) scale(0.9964 1)">Grain Products, Non Whole Grain, Not Enriched…</text>
<g transform="translate(488.59 265.70) rotate(-90)"><text transform="translate(-49.66 0) scale(0.9636 1)">Fluid Milk &amp; Fortified Soy-Based Beverages</text><text class="dg" transform="translate(-20.30 0) scale(0.8930 1)"><tspan font-size="9.7">(</tspan>19-30</text><text transform="translate(-0.52 0) scale(1.0350 1)"> yrs<tspan font-size="9.7">)</tspan></text></g>
<g transform="translate(499.40 265.70) rotate(-90)"><text transform="translate(-49.66 0) scale(0.9636 1)">Fluid Milk &amp; Fortified Soy-Based Beverages</text><text class="dg" transform="translate(-20.30 0) scale(0.8930 1)"><tspan font-size="9.7">(</tspan>31-50</text><text transform="translate(-0.52 0) scale(1.0350 1)"> yrs<tspan font-size="9.7">)</tspan></text></g>
<g transform="translate(510.20 265.70) rotate(-90)"><text transform="translate(-49.66 0) scale(0.9636 1)">Fluid Milk &amp; Fortified Soy-Based Beverages</text><text class="dg" transform="translate(-20.30 0) scale(0.8930 1)"><tspan font-size="9.7">(</tspan>51-70</text><text transform="translate(-0.52 0) scale(1.0350 1)"> yrs<tspan font-size="9.7">)</tspan></text></g>
<g transform="translate(521.01 265.70) rotate(-90)"><text transform="translate(-41.97 0) scale(0.9636 1)">Fluid Milk &amp; Fortified Soy-Based Beverages</text><text class="dg" transform="translate(-20.30 0) scale(0.8930 1)"><tspan font-size="9.7">(</tspan>&gt;70</text><text transform="translate(-0.52 0) scale(1.0350 1)"> yrs<tspan font-size="9.7">)</tspan></text></g>
<g transform="translate(531.81 265.70) rotate(-90)"><text transform="translate(-49.73 0) scale(0.9867 1)">Other Milk Alternatives</text><text class="dg" transform="translate(-20.30 0) scale(0.8930 1)"><tspan font-size="9.7">(</tspan>19-30</text><text transform="translate(-0.52 0) scale(1.0350 1)"> yrs<tspan font-size="9.7">)</tspan></text></g>
<g transform="translate(542.62 265.70) rotate(-90)"><text transform="translate(-49.73 0) scale(0.9867 1)">Other Milk Alternatives</text><text class="dg" transform="translate(-20.30 0) scale(0.8930 1)"><tspan font-size="9.7">(</tspan>31-50</text><text transform="translate(-0.52 0) scale(1.0350 1)"> yrs<tspan font-size="9.7">)</tspan></text></g>
<g transform="translate(553.43 265.70) rotate(-90)"><text transform="translate(-49.73 0) scale(0.9867 1)">Other Milk Alternatives</text><text class="dg" transform="translate(-20.30 0) scale(0.8930 1)"><tspan font-size="9.7">(</tspan>51-70</text><text transform="translate(-0.52 0) scale(1.0350 1)"> yrs<tspan font-size="9.7">)</tspan></text></g>
<g transform="translate(564.23 265.70) rotate(-90)"><text transform="translate(-42.03 0) scale(0.9867 1)">Other Milk Alternatives</text><text class="dg" transform="translate(-20.30 0) scale(0.8930 1)"><tspan font-size="9.7">(</tspan>&gt;70</text><text transform="translate(-0.52 0) scale(1.0350 1)"> yrs<tspan font-size="9.7">)</tspan></text></g>
<g transform="translate(575.04 265.70) rotate(-90)"><text transform="translate(-49.65 0) scale(0.9599 1)">Beef, Game, &amp; Organ Meats</text><text class="dg" transform="translate(-20.30 0) scale(0.8930 1)"><tspan font-size="9.7">(</tspan>19-30</text><text transform="translate(-0.52 0) scale(1.0350 1)"> yrs<tspan font-size="9.7">)</tspan></text></g>
<g transform="translate(585.84 265.70) rotate(-90)"><text transform="translate(-49.65 0) scale(0.9599 1)">Beef, Game, &amp; Organ Meats</text><text class="dg" transform="translate(-20.30 0) scale(0.8930 1)"><tspan font-size="9.7">(</tspan>31-50</text><text transform="translate(-0.52 0) scale(1.0350 1)"> yrs<tspan font-size="9.7">)</tspan></text></g>
<g transform="translate(596.65 265.70) rotate(-90)"><text transform="translate(-49.65 0) scale(0.9599 1)">Beef, Game, &amp; Organ Meats</text><text class="dg" transform="translate(-20.30 0) scale(0.8930 1)"><tspan font-size="9.7">(</tspan>51-70</text><text transform="translate(-0.52 0) scale(1.0350 1)"> yrs<tspan font-size="9.7">)</tspan></text></g>
<g transform="translate(607.46 265.70) rotate(-90)"><text transform="translate(-41.96 0) scale(0.9599 1)">Beef, Game, &amp; Organ Meats</text><text class="dg" transform="translate(-20.30 0) scale(0.8930 1)"><tspan font-size="9.7">(</tspan>&gt;70</text><text transform="translate(-0.52 0) scale(1.0350 1)"> yrs<tspan font-size="9.7">)</tspan></text></g>
<g transform="translate(618.26 265.70) rotate(-90)"><text transform="translate(-49.73 0) scale(0.9892 1)">Other Meats</text><text class="dg" transform="translate(-20.30 0) scale(0.8930 1)"><tspan font-size="9.7">(</tspan>19-30</text><text transform="translate(-0.52 0) scale(1.0350 1)"> yrs<tspan font-size="9.7">)</tspan></text></g>
<g transform="translate(629.07 265.70) rotate(-90)"><text transform="translate(-49.73 0) scale(0.9892 1)">Other Meats</text><text class="dg" transform="translate(-20.30 0) scale(0.8930 1)"><tspan font-size="9.7">(</tspan>31-50</text><text transform="translate(-0.52 0) scale(1.0350 1)"> yrs<tspan font-size="9.7">)</tspan></text></g>
<g transform="translate(639.87 265.70) rotate(-90)"><text transform="translate(-49.73 0) scale(0.9892 1)">Other Meats</text><text class="dg" transform="translate(-20.30 0) scale(0.8930 1)"><tspan font-size="9.7">(</tspan>51-70</text><text transform="translate(-0.52 0) scale(1.0350 1)"> yrs<tspan font-size="9.7">)</tspan></text></g>
<g transform="translate(650.68 265.70) rotate(-90)"><text transform="translate(-42.04 0) scale(0.9892 1)">Other Meats</text><text class="dg" transform="translate(-20.30 0) scale(0.8930 1)"><tspan font-size="9.7">(</tspan>&gt;70</text><text transform="translate(-0.52 0) scale(1.0350 1)"> yrs<tspan font-size="9.7">)</tspan></text></g>
<g transform="translate(661.49 265.70) rotate(-90)"><text transform="translate(-49.65 0) scale(0.9597 1)">Poultry</text><text class="dg" transform="translate(-20.30 0) scale(0.8930 1)"><tspan font-size="9.7">(</tspan>19-30</text><text transform="translate(-0.52 0) scale(1.0350 1)"> yrs<tspan font-size="9.7">)</tspan></text></g>
<g transform="translate(672.29 265.70) rotate(-90)"><text transform="translate(-49.65 0) scale(0.9597 1)">Poultry</text><text class="dg" transform="translate(-20.30 0) scale(0.8930 1)"><tspan font-size="9.7">(</tspan>31-50</text><text transform="translate(-0.52 0) scale(1.0350 1)"> yrs<tspan font-size="9.7">)</tspan></text></g>
<g transform="translate(683.10 265.70) rotate(-90)"><text transform="translate(-49.65 0) scale(0.9597 1)">Poultry</text><text class="dg" transform="translate(-20.30 0) scale(0.8930 1)"><tspan font-size="9.7">(</tspan>31-50</text><text transform="translate(-0.52 0) scale(1.0350 1)"> yrs<tspan font-size="9.7">)</tspan></text></g>
<g transform="translate(693.90 265.70) rotate(-90)"><text transform="translate(-41.96 0) scale(0.9597 1)">Poultry</text><text class="dg" transform="translate(-20.30 0) scale(0.8930 1)"><tspan font-size="9.7">(</tspan>&gt;70</text><text transform="translate(-0.52 0) scale(1.0350 1)"> yrs<tspan font-size="9.7">)</tspan></text></g>
<g transform="translate(704.71 265.70) rotate(-90)"><text transform="translate(-49.48 0) scale(0.8977 1)">Fish</text><text class="dg" transform="translate(-20.30 0) scale(0.8930 1)"><tspan font-size="9.7">(</tspan>19-30</text><text transform="translate(-0.52 0) scale(1.0350 1)"> yrs<tspan font-size="9.7">)</tspan></text></g>
<g transform="translate(715.52 265.70) rotate(-90)"><text transform="translate(-49.48 0) scale(0.8977 1)">Fish</text><text class="dg" transform="translate(-20.30 0) scale(0.8930 1)"><tspan font-size="9.7">(</tspan>31-50</text><text transform="translate(-0.52 0) scale(1.0350 1)"> yrs<tspan font-size="9.7">)</tspan></text></g>
<g transform="translate(726.32 265.70) rotate(-90)"><text transform="translate(-49.48 0) scale(0.8977 1)">Fish</text><text class="dg" transform="translate(-20.30 0) scale(0.8930 1)"><tspan font-size="9.7">(</tspan>51-70</text><text transform="translate(-0.52 0) scale(1.0350 1)"> yrs<tspan font-size="9.7">)</tspan></text></g>
<g transform="translate(737.13 265.70) rotate(-90)"><text transform="translate(-41.79 0) scale(0.8977 1)">Fish</text><text class="dg" transform="translate(-20.30 0) scale(0.8930 1)"><tspan font-size="9.7">(</tspan>&gt;70</text><text transform="translate(-0.52 0) scale(1.0350 1)"> yrs<tspan font-size="9.7">)</tspan></text></g>
<g transform="translate(747.93 265.70) rotate(-90)"><text transform="translate(-49.61 0) scale(0.9464 1)">Shellfish</text><text class="dg" transform="translate(-20.30 0) scale(0.8930 1)"><tspan font-size="9.7">(</tspan>19-30</text><text transform="translate(-0.52 0) scale(1.0350 1)"> yrs<tspan font-size="9.7">)</tspan></text></g>
<g transform="translate(758.74 265.70) rotate(-90)"><text transform="translate(-49.61 0) scale(0.9464 1)">Shellfish</text><text class="dg" transform="translate(-20.30 0) scale(0.8930 1)"><tspan font-size="9.7">(</tspan>31-50</text><text transform="translate(-0.52 0) scale(1.0350 1)"> yrs<tspan font-size="9.7">)</tspan></text></g>
<g transform="translate(769.55 265.70) rotate(-90)"><text transform="translate(-49.61 0) scale(0.9464 1)">Shellfish</text><text class="dg" transform="translate(-20.30 0) scale(0.8930 1)"><tspan font-size="9.7">(</tspan>51-70</text><text transform="translate(-0.52 0) scale(1.0350 1)"> yrs<tspan font-size="9.7">)</tspan></text></g>
<g transform="translate(780.35 265.70) rotate(-90)"><text transform="translate(-41.92 0) scale(0.9464 1)">Shellfish</text><text class="dg" transform="translate(-20.30 0) scale(0.8930 1)"><tspan font-size="9.7">(</tspan>&gt;70</text><text transform="translate(-0.52 0) scale(1.0350 1)"> yrs<tspan font-size="9.7">)</tspan></text></g>
<g transform="translate(791.16 265.70) rotate(-90)"><text transform="translate(-49.67 0) scale(0.9654 1)">Legumes</text><text class="dg" transform="translate(-20.30 0) scale(0.8930 1)"><tspan font-size="9.7">(</tspan>19-30</text><text transform="translate(-0.52 0) scale(1.0350 1)"> yrs<tspan font-size="9.7">)</tspan></text></g>
<g transform="translate(801.96 265.70) rotate(-90)"><text transform="translate(-49.67 0) scale(0.9654 1)">Legumes</text><text class="dg" transform="translate(-20.30 0) scale(0.8930 1)"><tspan font-size="9.7">(</tspan>31-50</text><text transform="translate(-0.52 0) scale(1.0350 1)"> yrs<tspan font-size="9.7">)</tspan></text></g>
<g transform="translate(812.77 265.70) rotate(-90)"><text transform="translate(-49.67 0) scale(0.9654 1)">Legumes</text><text class="dg" transform="translate(-20.30 0) scale(0.8930 1)"><tspan font-size="9.7">(</tspan>51-70</text><text transform="translate(-0.52 0) scale(1.0350 1)"> yrs<tspan font-size="9.7">)</tspan></text></g>
<g transform="translate(823.58 265.70) rotate(-90)"><text transform="translate(-41.98 0) scale(0.9654 1)">Legumes</text><text class="dg" transform="translate(-20.30 0) scale(0.8930 1)"><tspan font-size="9.7">(</tspan>&gt;70</text><text transform="translate(-0.52 0) scale(1.0350 1)"> yrs<tspan font-size="9.7">)</tspan></text></g>
<g transform="translate(834.38 265.70) rotate(-90)"><text transform="translate(-49.67 0) scale(0.9680 1)">Nuts &amp; Seeds</text><text class="dg" transform="translate(-20.30 0) scale(0.8930 1)"><tspan font-size="9.7">(</tspan>19-30</text><text transform="translate(-0.52 0) scale(1.0350 1)"> yrs<tspan font-size="9.7">)</tspan></text></g>
<g transform="translate(845.19 265.70) rotate(-90)"><text transform="translate(-49.67 0) scale(0.9680 1)">Nuts &amp; Seeds</text><text class="dg" transform="translate(-20.30 0) scale(0.8930 1)"><tspan font-size="9.7">(</tspan>31-50</text><text transform="translate(-0.52 0) scale(1.0350 1)"> yrs<tspan font-size="9.7">)</tspan></text></g>
<g transform="translate(855.99 265.70) rotate(-90)"><text transform="translate(-49.67 0) scale(0.9680 1)">Nuts &amp; Seeds</text><text class="dg" transform="translate(-20.30 0) scale(0.8930 1)"><tspan font-size="9.7">(</tspan>51-70</text><text transform="translate(-0.52 0) scale(1.0350 1)"> yrs<tspan font-size="9.7">)</tspan></text></g>
<g transform="translate(866.80 265.70) rotate(-90)"><text transform="translate(-41.98 0) scale(0.9680 1)">Nuts &amp; Seeds</text><text class="dg" transform="translate(-20.30 0) scale(0.8930 1)"><tspan font-size="9.7">(</tspan>&gt;70</text><text transform="translate(-0.52 0) scale(1.0350 1)"> yrs<tspan font-size="9.7">)</tspan></text></g>
<g transform="translate(877.61 265.70) rotate(-90)"><text transform="translate(-49.58 0) scale(0.9361 1)">Eggs</text><text class="dg" transform="translate(-20.30 0) scale(0.8930 1)"><tspan font-size="9.7">(</tspan>19-30</text><text transform="translate(-0.52 0) scale(1.0350 1)"> yrs<tspan font-size="9.7">)</tspan></text></g>
<g transform="translate(888.41 265.70) rotate(-90)"><text transform="translate(-49.58 0) scale(0.9361 1)">Eggs</text><text class="dg" transform="translate(-20.30 0) scale(0.8930 1)"><tspan font-size="9.7">(</tspan>31-50</text><text transform="translate(-0.52 0) scale(1.0350 1)"> yrs<tspan font-size="9.7">)</tspan></text></g>
<g transform="translate(899.22 265.70) rotate(-90)"><text transform="translate(-49.58 0) scale(0.9361 1)">Eggs</text><text class="dg" transform="translate(-20.30 0) scale(0.8930 1)"><tspan font-size="9.7">(</tspan>51-70</text><text transform="translate(-0.52 0) scale(1.0350 1)"> yrs<tspan font-size="9.7">)</tspan></text></g>
<g transform="translate(910.02 265.70) rotate(-90)"><text transform="translate(-41.89 0) scale(0.9361 1)">Eggs</text><text class="dg" transform="translate(-20.30 0) scale(0.8930 1)"><tspan font-size="9.7">(</tspan>&gt;70</text><text transform="translate(-0.52 0) scale(1.0350 1)"> yrs<tspan font-size="9.7">)</tspan></text></g>
<g transform="translate(920.83 265.70) rotate(-90)"><text transform="translate(-49.70 0) scale(0.9785 1)">Processed Meats</text><text class="dg" transform="translate(-20.30 0) scale(0.8930 1)"><tspan font-size="9.7">(</tspan>19-30</text><text transform="translate(-0.52 0) scale(1.0350 1)"> yrs<tspan font-size="9.7">)</tspan></text></g>
<g transform="translate(931.64 265.70) rotate(-90)"><text transform="translate(-49.70 0) scale(0.9785 1)">Processed Meats</text><text class="dg" transform="translate(-20.30 0) scale(0.8930 1)"><tspan font-size="9.7">(</tspan>31-50</text><text transform="translate(-0.52 0) scale(1.0350 1)"> yrs<tspan font-size="9.7">)</tspan></text></g>
<g transform="translate(942.44 265.70) rotate(-90)"><text transform="translate(-49.70 0) scale(0.9785 1)">Processed Meats</text><text class="dg" transform="translate(-20.30 0) scale(0.8930 1)"><tspan font-size="9.7">(</tspan>51-70</text><text transform="translate(-0.52 0) scale(1.0350 1)"> yrs<tspan font-size="9.7">)</tspan></text></g>
<g transform="translate(953.25 265.70) rotate(-90)"><text transform="translate(-42.01 0) scale(0.9785 1)">Processed Meats</text><text class="dg" transform="translate(-20.30 0) scale(0.8930 1)"><tspan font-size="9.7">(</tspan>&gt;70</text><text transform="translate(-0.52 0) scale(1.0350 1)"> yrs<tspan font-size="9.7">)</tspan></text></g>
</g>
<g>
<rect x="974.9" y="217.25" width="8.6" height="8.6" fill="#FF0000"/>
<text class="lg" transform="translate(986.2 225.75) scale(0.9728 1)">Tier 4</text>
<rect x="974.9" y="241.95" width="8.6" height="8.6" fill="#FFC000"/>
<text class="lg" transform="translate(986.2 250.45) scale(0.9728 1)">Tier 3</text>
<rect x="974.9" y="266.65" width="8.6" height="8.6" fill="#0070C0"/>
<text class="lg" transform="translate(986.2 275.15) scale(0.9728 1)">Tier 2</text>
<rect x="974.9" y="291.35" width="8.6" height="8.6" fill="#00B050"/>
<text class="lg" transform="translate(986.2 299.85) scale(0.9728 1)">Tier 1</text>
</g>
<text class="cap" transform="translate(513.75 552) scale(0.935 1)">(<tspan font-weight="bold">b</tspan>)</text>
</svg>
</body>
</html>
